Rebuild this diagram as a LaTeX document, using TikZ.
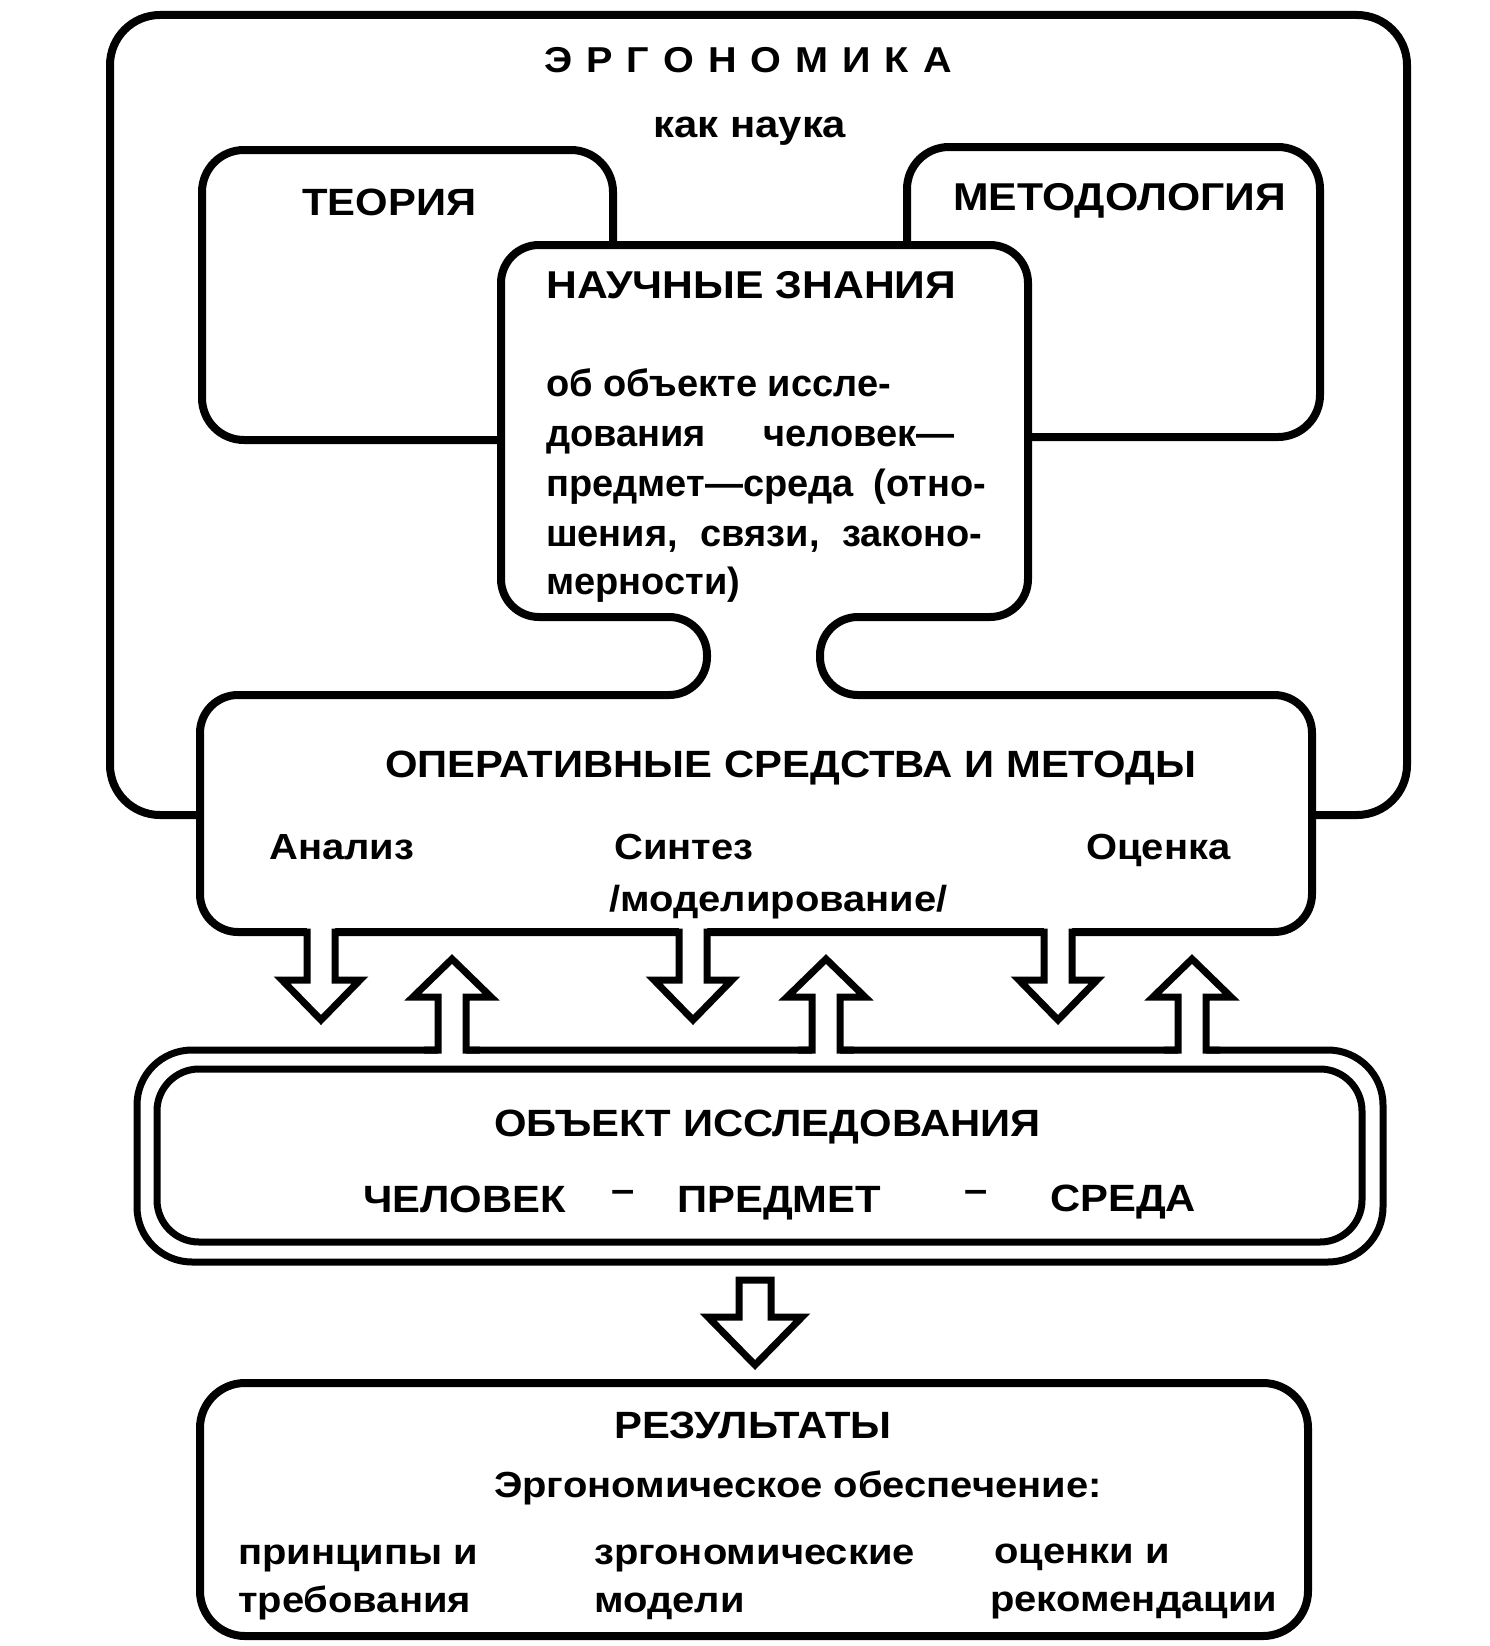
\documentclass[tikz,border=0pt]{standalone}
\usepackage{fontspec}
\setmainfont{Liberation Sans}
\newfontfamily\lsa{Liberation Sans}[FakeStretch=1.1]
\newfontfamily\lsp{Liberation Sans}
\newcommand\gapsp{\hspace{14pt}}
\tikzset{
  box/.style={line width=8pt, line join=miter},
  objbox/.style={line width=7pt},
  arrowline/.style={line width=7pt, line join=miter, miter limit=10},
  capt/.style={font={\lsa\fontsize{38}{46}\selectfont\bfseries}, inner sep=0pt, anchor=base west},
  low/.style={font={\lsa\fontsize{36.3}{44}\selectfont\bfseries}, inner sep=0pt, anchor=base west},
  para/.style={font={\lsp\fontsize{38}{46}\selectfont\bfseries}, inner sep=0pt, anchor=base west},
}
\newcommand\dnarr[1]{%
  \fill[white] ({#1-14},926) -- ({#1-14},980) -- ({#1-39},980) -- (#1,1020) -- ({#1+39},980) -- ({#1+14},980) -- ({#1+14},926) -- cycle;
  \draw[arrowline] ({#1-28},932) -- ({#1-14},932) -- ({#1-14},980) -- ({#1-39},980) -- (#1,1020) -- ({#1+39},980) -- ({#1+14},980) -- ({#1+14},932) -- ({#1+28},932);}
\newcommand\uparr[1]{%
  \fill[white] ({#1-14},1056) -- ({#1-14},997) -- ({#1-39},997) -- (#1,959) -- ({#1+39},997) -- ({#1+14},997) -- ({#1+14},1056) -- cycle;
  \draw[arrowline] ({#1-28},1050) -- ({#1-14},1050) -- ({#1-14},997) -- ({#1-39},997) -- (#1,959) -- ({#1+39},997) -- ({#1+14},997) -- ({#1+14},1050) -- ({#1+28},1050);}
\begin{document}
\begin{tikzpicture}[x=1pt,y=-1pt]
\useasboundingbox (0,0) rectangle (1490,1646);
\fill[white] (0,0) rectangle (1490,1646);
% outer frame
\draw[box, rounded corners=50] (200,815) -- (110,815) -- (110,15) -- (1407,15) -- (1407,815) -- (1312,815);
% theory and methodology
\draw[box, rounded corners=42] (501,440) -- (202,440) -- (202,150) -- (613,150) -- (613,245);
\draw[box, rounded corners=42] (907,245) -- (907,147) -- (1320,147) -- (1320,437) -- (1028,437);
% knowledge + operative means
\draw[box, rounded corners=38] (760,245) -- (1028,245) -- (1028,617) -- (820,617) -- (820,695) -- (1312,695) -- (1312,932) -- (200,932) -- (200,695) -- (707,695) -- (707,617) -- (501,617) -- (501,245) -- (780,245);
% object box
\draw[objbox, rounded corners=55] (137,1050) rectangle (1383,1262);
\draw[objbox, rounded corners=42] (157,1069) rectangle (1362,1242);
% arrows
\dnarr{321}\dnarr{693}\dnarr{1058}
\uparr{452}\uparr{826}\uparr{1192}
\draw[arrowline] (739,1280) -- (771,1280) -- (771,1317) -- (802,1317) -- (755,1365) -- (708,1317) -- (739,1317) -- cycle;
% results
\draw[box, rounded corners=45] (200,1383) rectangle (1308,1636);
% texts
\node[capt, anchor=base, font={\lsa\fontsize{36}{44}\selectfont\bfseries}] (ergo) at (748,73) {Э\gapsp Р\gapsp Г\gapsp О\gapsp Н\gapsp О\gapsp М\gapsp И\gapsp К\gapsp А};
\node[low, anchor=base, font={\lsa\fontsize{38}{46}\selectfont\bfseries}] (kak) at (750,137) {как наука};
\node[capt] (teor) at (302,215) {ТЕОРИЯ};
\node[capt, font={\lsa\fontsize{38.8}{46}\selectfont\bfseries}] (meth) at (953,210) {МЕТОДОЛОГИЯ};
\node[capt, font={\lsa\fontsize{38.8}{46}\selectfont\bfseries}] (nauch) at (546,298) {НАУЧНЫЕ ЗНАНИЯ};
\node[para] (l1) at (546,396) {об объекте иссле-};
\node[para] (l2) at (546,446) {\makebox[408pt][s]{дования человек—}};
\node[para] (l3) at (546,496) {\makebox[440pt][s]{предмет—среда (отно-}};
\node[para] (l4) at (546,546) {\makebox[436pt][s]{шения, связи, законо-}};
\node[para] (l5) at (546,594) {мерности)};
\node[capt] (oper) at (385,777) {ОПЕРАТИВНЫЕ СРЕДСТВА И МЕТОДЫ};
\node[low] (anal) at (269,859) {Анализ};
\node[low] (sint) at (614,859) {Синтез};
\node[low] (ocen) at (1086,859) {Оценка};
\node[low] (model) at (609,911) {/моделирование/};
\node[capt] (obj) at (494,1136) {ОБЪЕКТ ИССЛЕДОВАНИЯ};
\node[capt] (chel) at (363,1212) {ЧЕЛОВЕК};
\node[capt, anchor=base] (d1) at (623,1202) {–};
\node[capt] (pred) at (677,1212) {ПРЕДМЕТ};
\node[capt, anchor=base] (d2) at (976,1202) {–};
\node[capt] (sreda) at (1050,1211) {СРЕДА};
\node[capt] (res) at (614,1438) {РЕЗУЛЬТАТЫ};
\node[low] (erg) at (494,1497) {Эргономическое обеспечение:};
\node[low] (p1) at (238,1564) {принципы и};
\node[low] (p2) at (238,1612) {требования};
\node[low] (z1) at (594,1564) {зргономические};
\node[low] (z2) at (594,1612) {модели};
\node[low] (o1) at (994,1563) {оценки и};
\node[low] (o2) at (990,1611) {рекомендации};
\end{tikzpicture}
\end{document}
